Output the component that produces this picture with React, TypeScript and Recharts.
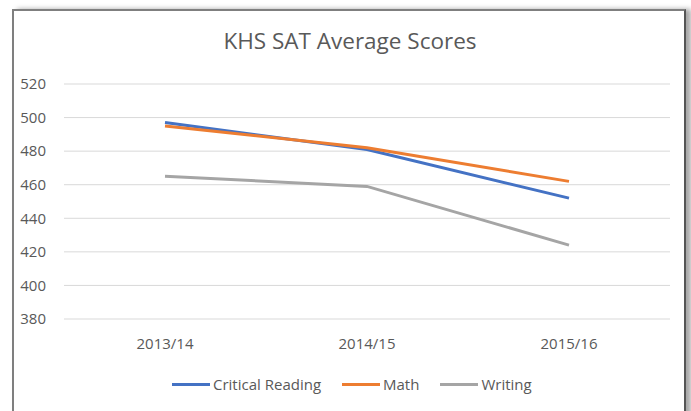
import React from "react";
import { LineChart, Line, XAxis, YAxis, CartesianGrid } from "recharts";

const categories = ["2013/14", "2014/15", "2015/16"];
const criticalReading = [497, 481, 452];
const math = [495, 482, 462];
const writing = [465, 459, 424];
const yTicks = [380, 400, 420, 440, 460, 480, 500, 520];

const series = [
  { key: "cr", name: "Critical Reading", color: "#4472C4", values: criticalReading },
  { key: "math", name: "Math", color: "#ED7D31", values: math },
  { key: "writing", name: "Writing", color: "#A5A5A5", values: writing },
];

const data = categories.map((c, i) => {
  const row: Record<string, string | number> = { name: c };
  series.forEach((s) => (row[s.key] = s.values[i]));
  return row;
});

const FONT = "'Open Sans', sans-serif";
const TEXT = "#595959";

export default function App() {
  return (
    <div style={{ position: "absolute", left: 0, top: 0, width: 691, height: 411, overflow: "hidden", background: "#fff", fontFamily: FONT }}>
      <div
        style={{
          position: "absolute",
          left: 12,
          top: 9,
          width: 670,
          height: 430,
          borderLeft: "2px solid #7f7f7f",
          borderTop: "2px solid #7f7f7f",
          borderRight: "2px solid #555",
          boxShadow: "5px 0 5px rgba(0,0,0,0.35)",
          background: "#fff",
        }}
      />
      <div style={{ position: "absolute", left: 0, width: 700, top: 26, textAlign: "center", fontSize: 22.5, color: TEXT, lineHeight: "30px" }}>
        KHS SAT Average Scores
      </div>
      <div style={{ position: "absolute", left: 0, top: 0 }}>
        <LineChart width={691} height={411} data={data} margin={{ top: 84, right: 21, bottom: 62, left: 4 }}>
          <CartesianGrid vertical={false} stroke="#d9d9d9" strokeWidth={1} />
          <XAxis
            dataKey="name"
            axisLine={false}
            tickLine={false}
            tickSize={0}
            tickMargin={19}
            padding={{ left: 101, right: 101 }}
            tick={{ fill: TEXT, fontSize: 15, fontFamily: FONT }}
            height={30}
          />
          <YAxis
            domain={[380, 520]}
            ticks={yTicks}
            axisLine={false}
            tickLine={false}
            tickSize={0}
            tickMargin={18}
            width={60}
            tick={{ fill: TEXT, fontSize: 15, fontFamily: FONT }}
          />
          {series.map((s) => (
            <Line
              key={s.key}
              dataKey={s.key}
              name={s.name}
              stroke={s.color}
              strokeWidth={3}
              dot={false}
              activeDot={false}
              isAnimationActive={false}
            />
          ))}
        </LineChart>
      </div>
      <div style={{ position: "absolute", left: 172, top: 374, display: "flex", alignItems: "center", fontSize: 15, color: TEXT, whiteSpace: "nowrap" }}>
        {series.map((s) => (
          <div key={s.key} style={{ display: "flex", alignItems: "center", marginRight: 21 }}>
            <div style={{ width: 38, height: 3, background: s.color, marginRight: 3 }} />
            <span style={{ lineHeight: "20px" }}>{s.name}</span>
          </div>
        ))}
      </div>
    </div>
  );
}
